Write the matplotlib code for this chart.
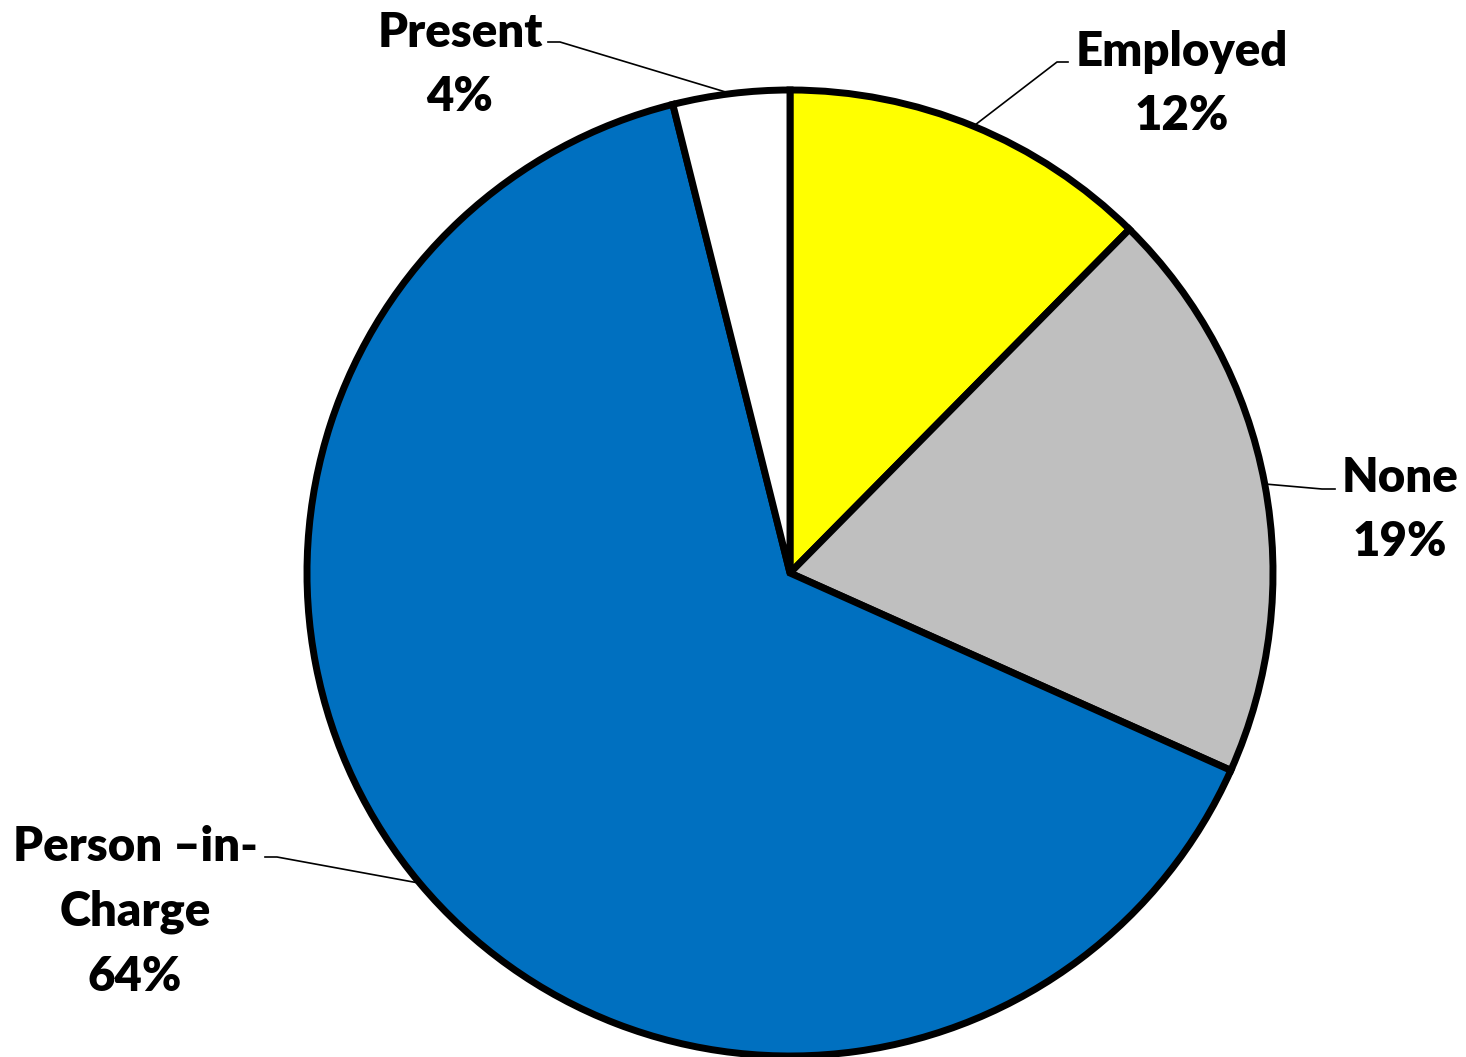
import matplotlib
matplotlib.use('Agg')
import numpy as np
import matplotlib.pyplot as plt

plt.rcParams.update({'font.family': 'Lato', 'font.weight': 'bold'})

labels = ['Employed', 'None', 'Person –in-\nCharge', 'Present']
values = [12.4, 19.3, 64.4, 3.9]
colors = ['#FFFF00', '#BFBFBF', '#0070C0', '#FFFFFF']

W, H = 1466, 1057
fig = plt.figure(figsize=(W / 100, H / 100), dpi=100)
ax = fig.add_axes([0, 0, 1, 1])

CX, CY, R = 790, H - 573, 483
wedges, _ = ax.pie(values, colors=colors, startangle=90, counterclock=False,
                   center=(CX, CY), radius=R, frame=True,
                   wedgeprops=dict(edgecolor='black', linewidth=5))
ax.set_xlim(0, W)
ax.set_ylim(0, H)
ax.set_aspect('equal')
ax.axis('off')

# label block centre, elbow start (text side), elbow end
layout = [
    ((1182, H - 84), (1068, H - 62), (1057, H - 62)),
    ((1400, H - 510), (1335, H - 489), (1322, H - 489)),
    ((135, H - 912), (265, H - 857), (277, H - 857)),
    ((460, H - 65), (548, H - 42), (560, H - 42)),
]
for w, lab, v, (tpos, p0, p1) in zip(wedges, labels, values, layout):
    ang = np.deg2rad((w.theta1 + w.theta2) / 2)
    edge = (CX + R * np.cos(ang), CY + R * np.sin(ang))
    ax.plot([p0[0], p1[0], edge[0]], [p0[1], p1[1], edge[1]], color='black', lw=1.2, zorder=1)
    ax.text(tpos[0], tpos[1], f'{lab}\n{round(v)}%', ha='center', va='center',
            fontsize=34, fontweight='heavy', linespacing=1.57, color='black')

fig.savefig('out.png', dpi=100)
